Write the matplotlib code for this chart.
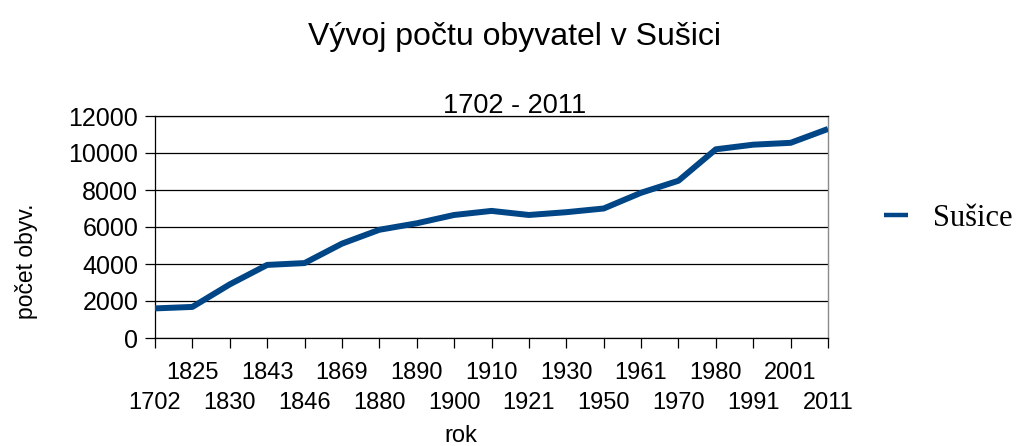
import matplotlib
matplotlib.use("Agg")
import matplotlib.pyplot as plt
import numpy as np

years = ["1702", "1825", "1830", "1843", "1846", "1869", "1880", "1890", "1900", "1910",
         "1921", "1930", "1950", "1961", "1970", "1980", "1991", "2001", "2011"]
population = [1600, 1680, 2900, 3950, 4050, 5100, 5850, 6200, 6650, 6870,
              6650, 6800, 7000, 7850, 8500, 10200, 10450, 10550, 11300]
y_ticks = [0, 2000, 4000, 6000, 8000, 10000, 12000]
series_name = "Sušice"
title = "Vývoj počtu obyvatel v Sušici"
subtitle = "1702 - 2011"
x_label = "rok"
y_label = "počet obyv."

plt.rcParams['font.family'] = ['Liberation Sans', 'DejaVu Sans']

W, H = 1016, 446
fig = plt.figure(figsize=(W / 100, H / 100), dpi=100)
ax = fig.add_axes([155 / W, 1 - 338 / H, (828 - 155) / W, (338 - 116) / H])

x = np.arange(len(years))
ax.plot(x, population, color="#004586", lw=4.3, solid_capstyle="butt",
        solid_joinstyle="round", label=series_name, zorder=3)

ax.set_xlim(0, len(years) - 1)
ax.set_ylim(0, 12000)
ax.set_yticks(y_ticks)
ax.set_yticklabels([str(v) for v in y_ticks], fontsize=18)
ax.yaxis.grid(True, color="black", lw=0.9)
ax.set_axisbelow(True)

# lower row (even positions) as major ticks, upper row (odd positions) as minor ticks
ax.set_xticks(x[0::2])
ax.set_xticklabels(years[0::2], fontsize=17)
ax.set_xticks(x[1::2], minor=True)
ax.set_xticklabels(years[1::2], minor=True, fontsize=17)
ax.tick_params(axis="x", which="major", direction="out", length=7, width=0.9, pad=32, color="black")
ax.tick_params(axis="x", which="minor", direction="out", length=7, width=0.9, pad=10, color="black")
ax.tick_params(axis="y", direction="out", length=7, width=0.9, pad=5, color="black")

for s in ["left", "bottom", "top"]:
    ax.spines[s].set_color("black")
    ax.spines[s].set_linewidth(0.9)
ax.spines["right"].set_color("#8a8a8a")
ax.spines["right"].set_linewidth(1.0)

ax.set_xlabel(x_label, fontsize=17)
ax.xaxis.set_label_coords((461 - 155) / (828 - 155), (338 - 436) / (338 - 116))
ax.xaxis.label.set_verticalalignment("center")

ax.set_ylabel(y_label, fontsize=16.5)
ax.yaxis.set_label_coords((27 - 155) / (828 - 155), (338 - 261) / (338 - 116))
ax.yaxis.label.set_verticalalignment("center")

fig.text(515 / W, 1 - 45 / H, title, fontsize=23, ha="center", va="baseline")
fig.text(515 / W, 1 - 113 / H, subtitle, fontsize=19.5, ha="center", va="baseline")

leg = fig.legend(loc="center left", bbox_to_anchor=(884 / W, 1 - 218 / H), frameon=False,
                 borderpad=0, borderaxespad=0, handlelength=0.8, handletextpad=0.8,
                 prop={"family": "Liberation Serif", "size": 22})
for ln in leg.get_lines():
    ln.set_linewidth(3.2)

fig.savefig("out.png", dpi=100)
